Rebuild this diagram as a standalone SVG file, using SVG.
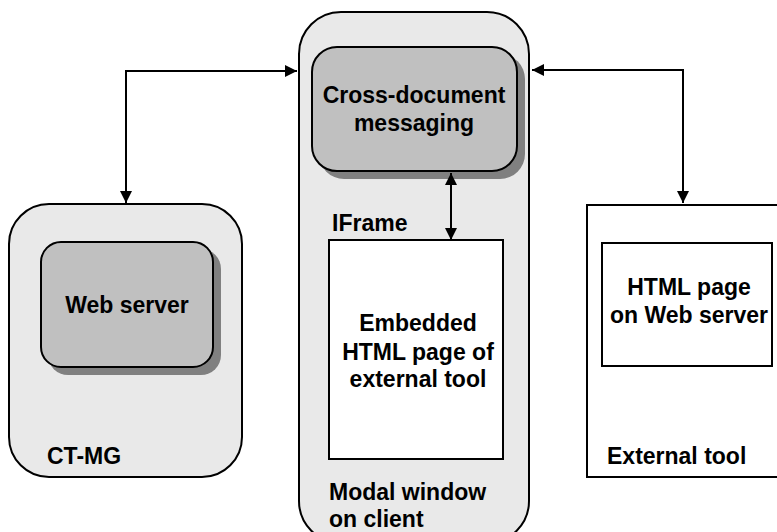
<svg xmlns="http://www.w3.org/2000/svg" width="777" height="532" viewBox="0 0 777 532">
<defs>
<marker id="ah" viewBox="0 0 12 12" refX="12" refY="6" markerWidth="12" markerHeight="12" markerUnits="userSpaceOnUse" orient="auto-start-reverse">
<path d="M0,0 L12,6 L0,12 Z" fill="#000"/>
</marker>
</defs>
<style>
.cont{fill:#e9e9e9;stroke:#000;stroke-width:2}
.box{fill:#c0c0c0;stroke:#000;stroke-width:2}
.shadow{fill:#808080}
.white{fill:#fff;stroke:#000;stroke-width:2}
text{font-family:"Liberation Sans",Arial,sans-serif;font-weight:bold;font-size:23px;fill:#000}
.c{text-anchor:middle}
.conn{fill:none;stroke:#000;stroke-width:2}
</style>
<rect width="777" height="532" fill="#fff"/>
<g id="ctmg">
<rect class="cont" x="9" y="204" width="233" height="273" rx="40" ry="40"/>
<text x="47" y="464">CT-MG</text>
</g>
<g id="webserver">
<rect class="shadow" x="48" y="249" width="173" height="126" rx="20" ry="20"/>
<rect class="box" x="41" y="242" width="172" height="125" rx="20" ry="20"/>
<text class="c" x="127" y="313">Web server</text>
</g>
<g id="modal">
<rect class="cont" x="299" y="12" width="230" height="531" rx="42" ry="42"/>
<text x="329" y="500">Modal window</text>
<text x="329" y="527">on client</text>
</g>
<g id="messaging">
<rect class="shadow" x="319" y="54" width="206" height="125" rx="25" ry="25"/>
<rect class="box" x="312" y="47" width="205" height="124" rx="25" ry="25"/>
<text class="c" x="414" y="103">Cross-document</text>
<text class="c" x="414" y="131">messaging</text>
</g>
<g id="iframe">
<text x="332" y="231">IFrame</text>
<rect class="white" x="329" y="240" width="174" height="219"/>
<text class="c" x="418" y="331">Embedded</text>
<text class="c" x="418" y="360">HTML page of</text>
<text class="c" x="418" y="387">external tool</text>
</g>
<g id="externaltool">
<rect class="white" x="587" y="205" width="220" height="272"/>
<text x="607" y="464">External tool</text>
</g>
<g id="htmlpage">
<rect class="white" x="602" y="243" width="170" height="123"/>
<text class="c" x="689" y="295">HTML page</text>
<text class="c" x="689" y="323">on Web server</text>
</g>
<g id="connectors">
<path class="conn" d="M126,203 L126,71 L297,71" marker-start="url(#ah)" marker-end="url(#ah)"/>
<path class="conn" d="M532,70 L683,70 L683,203" marker-start="url(#ah)" marker-end="url(#ah)"/>
<path class="conn" d="M451,173 L451,240" marker-start="url(#ah)" marker-end="url(#ah)"/>
</g>
</svg>
